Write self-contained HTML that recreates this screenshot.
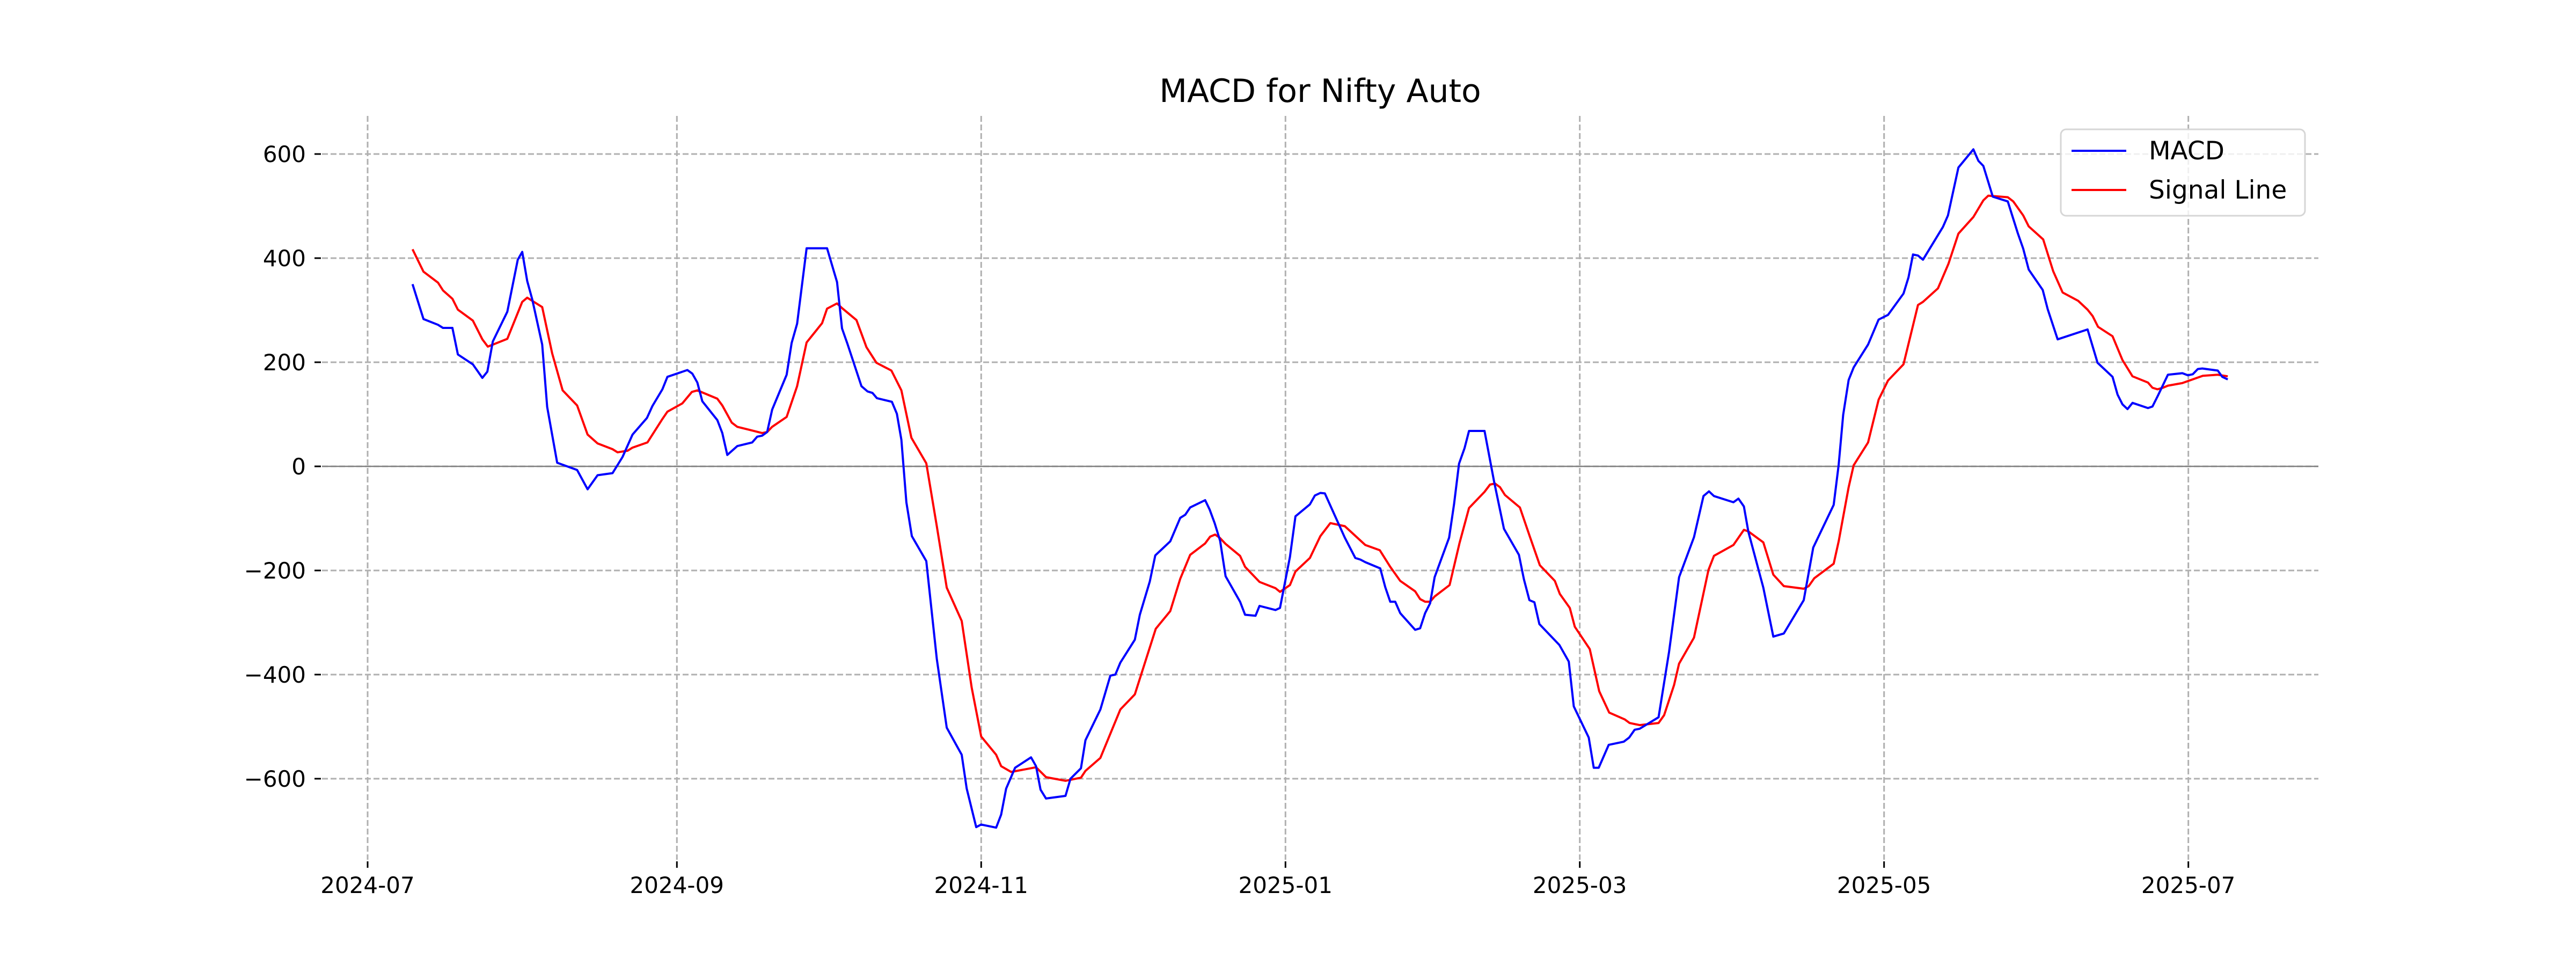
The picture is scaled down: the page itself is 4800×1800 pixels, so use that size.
<!DOCTYPE html>
<html><head><meta charset="utf-8"><style>
html,body{margin:0;padding:0;background:#fff;}
svg{display:block;font-family:"DejaVu Sans","Liberation Sans",sans-serif;}
</style></head><body>
<svg id="chart" width="4800" height="1800" viewBox="0 0 4800 1800" xmlns="http://www.w3.org/2000/svg">
<rect x="0" y="0" width="4800" height="1800" fill="#fff"/>
<text x="2460" y="190" text-anchor="middle" font-size="60" fill="#000">MACD for Nifty Auto</text>
<g id="grid"></g>
<g id="axes"></g>
<g id="series"></g>
<g>
<rect x="3840" y="241" width="455" height="161" rx="10" fill="#fff" fill-opacity="0.8" stroke="#d6d6d6" stroke-width="3"/>
<line x1="3860" y1="281" x2="3962" y2="281" stroke="#0000ff" stroke-width="4"/>
<text x="4004" y="297" font-size="47" fill="#000">MACD</text>
<line x1="3860" y1="354" x2="3962" y2="354" stroke="#ff0000" stroke-width="4"/>
<text x="4004" y="370" font-size="47" fill="#000">Signal Line</text>
</g>
</svg>
<script>
// days since 2024-07-01
const macdDays=[9,11.2,14.1,15.1,17,18.1,21.1,23,24,25.1,28,30.1,31,32,33,35,36,38,40,42,44.1,46.1,49.1,51.1,53.1,56,57.1,59.1,60.1,64.1,65.1,66.1,67.1,70.1,71.1,72.1,74.1,77.1,78.1,79.1,80.1,81.1,84,85,86.1,88,92.1,94.1,95.1,96.2,99,100.2,101.2,102.1,105.1,106.1,107,108,109.1,112,114.1,116.1,119.1,120.1,122,123,126,127,128,129.8,133,134,134.9,136,139.9,140.9,143,143.9,146.9,148.9,149.9,150.9,153.8,154.8,156.8,157.9,160.9,162.9,163.9,164.9,167.9,168.8,169.8,170.9,172,174.9,175.9,178,178.8,182,182.9,184.9,186,188.9,189.9,191,191.9,195.9,198,199,200,203,204,205,206,207,210,211,212,213,213.9,216.8,217.8,218.8,219.9,220.8,223.9,225.8,227.8,230.8,231.8,232.9,233.9,234.9,238.9,240.8,241.8,244.8,245.8,246.8,248.8,251.8,252.9,254,255,258.8,260.9,262.9,265.9,267.8,268.9,269.9,273.8,274.8,275.9,276.8,279.8,281.8,283.9,287.9,289.8,293.9,294.9,295.8,296.9,297.9,300.8,302.9,304.8,307.9,308.9,309.8,310.8,311.8,315.8,316.8,318.9,321.9,322.9,323.9,325.8,328.8,330.8,331.9,333,335.8,336.8,338.8,344.8,346.8,349.8,350.8,351.8,352.8,353.8,356.9,357.8,358.9,360.9,363.8,364.9,365.9,366.9,367.8,370.9,371.8,372.9];
const macdValues=[350,283,272,266,266,215,196,170,182,240,297,397,412,356,321,234,114,7,0,-7,-44,-17,-13,18,61,93,116,148,172,185,178,161,125,89,64,22,39,46,57,59,66,109,176,237,274,419,419,354,265,235,154,144,141,131,124,101,51,-69,-134,-182,-370,-502,-554,-619,-693,-688,-694,-669,-619,-579,-559,-576,-621,-638,-633,-600,-580,-526,-467,-402,-400,-377,-333,-285,-221,-171,-144,-99,-93,-79,-65,-83,-109,-143,-211,-260,-285,-287,-268,-276,-272,-174,-96,-73,-56,-51,-52,-137,-176,-179,-184,-196,-232,-260,-260,-282,-314,-311,-282,-263,-213,-137,-72,5,35,68,68,-28,-120,-170,-217,-257,-261,-303,-343,-375,-461,-521,-579,-579,-535,-529,-521,-506,-504,-482,-356,-213,-136,-57,-48,-57,-69,-62,-77,-126,-233,-327,-321,-257,-156,-74,3,99,166,190,234,282,291,332,363,407,405,397,460,482,574,609,587,577,518,509,448,418,378,339,302,244,263,199,172,138,119,110,122,112,115,136,176,179,175,177,187,188,184,172,167];
const signalDays=[9,11.2,14.1,15.1,17,18.1,21.1,23,24.1,28,31,32,35,37,39.1,42,44.1,46.1,49.1,50.1,52.1,53.1,56.1,59.1,60.1,63.1,65,66.1,70.1,71.1,73,74.1,79.1,80.1,81.1,84,86.1,88,91.1,92.1,94.1,95.1,98,100,102,105,107,109,112,114.1,116.1,119.1,121.1,123,126,127,129,134,136,139.9,143,143.9,146.9,150.9,153.8,158,160.9,162.9,164.9,167.9,168.9,169.9,170.8,172,174.9,175.9,178.8,182,182.9,184.9,186,188.9,191,193,195.9,200,202.9,205,207,210,211,212,213,213.9,216.9,218.9,220.8,223.9,225,226,227,228,231,233,235,238,239,241,242,245,246.9,248.9,252,253,255,258.8,259.9,261.9,262.9,265.9,268.8,269.9,273.8,275.9,276.8,279.8,281.8,283.9,287.9,288.9,290,293.9,294.9,296.9,297.9,300.8,302.9,304.8,307.9,310.8,311.8,314.8,316.9,318.9,321.9,323.9,324.9,328.8,329.9,331.9,333,335.9,337.9,339.8,342.9,344.8,345.8,346.9,349.8,351.8,353.8,356.9,357.8,358.8,359.9,360.9,363.8,367.9,370.9,372.9];
const signalValues=[417,374,353,338,322,301,280,244,230,245,316,324,306,217,146,117,61,44,33,27,30,36,46,91,105,121,143,146,130,117,84,76,64,66,76,95,154,238,275,303,313,304,281,229,199,184,146,55,6,-115,-233,-297,-425,-519,-554,-576,-587,-578,-597,-604,-598,-585,-560,-467,-438,-312,-278,-216,-170,-148,-135,-131,-137,-149,-172,-193,-222,-234,-241,-228,-202,-176,-134,-109,-115,-151,-161,-193,-220,-240,-255,-260,-260,-250,-228,-147,-80,-49,-35,-33,-40,-55,-79,-135,-190,-220,-245,-272,-308,-351,-432,-473,-486,-493,-497,-493,-478,-420,-379,-329,-199,-172,-151,-122,-125,-146,-208,-230,-235,-230,-215,-187,-144,-40,2,46,128,165,196,310,316,342,389,447,479,511,520,517,509,482,461,436,375,334,318,301,289,268,250,204,173,161,151,148,151,155,160,174,176,173];
const yTicks=[-600,-400,-200,0,200,400,600];
const xTickDays=[0,62,123,184,243,304,365];
const xTickLabels=["2024-07","2024-09","2024-11","2025-01","2025-03","2025-05","2025-07"];

const NS="http://www.w3.org/2000/svg";
const plotL=600,plotR=4320,plotT=216,plotB=1602;
function xScale(d){return 685+d*9.295;}
function yScale(v){return 869-v*0.97;}
function mk(tag,attrs,parent){const e=document.createElementNS(NS,tag);for(const k in attrs)e.setAttribute(k,attrs[k]);parent.appendChild(e);return e;}
const grid=document.getElementById('grid'),axes=document.getElementById('axes'),series=document.getElementById('series');

yTicks.forEach(function(v){
  const y=yScale(v);
  const g=mk('line',{x1:plotL,x2:plotR,y1:y,y2:y,stroke:'#b0b0b0','stroke-width':3,'stroke-dasharray':'11,5'},grid);
  
  
  const t=mk('line',{x1:586,x2:598,y1:y,y2:y,stroke:'#000','stroke-width':3},axes);
  
  
  const lab=mk('text',{x:570,y:y+15,'text-anchor':'end','font-size':42,fill:'#000'},axes);
  lab.textContent=(v<0?'\u2212'+Math.abs(v):String(v));
  
  
});
xTickDays.forEach(function(d,i){
  const x=xScale(d);
  const g=mk('line',{x1:x,x2:x,y1:plotT,y2:plotB,stroke:'#b0b0b0','stroke-width':3,'stroke-dasharray':'11,5'},grid);
  
  
  const t=mk('line',{x1:x,x2:x,y1:1605,y2:1617,stroke:'#000','stroke-width':3},axes);
  
  
  const lab=mk('text',{x:x,y:1664,'text-anchor':'middle','font-size':42,fill:'#000'},axes);
  lab.textContent=xTickLabels[i];
  
  
});
const zero=mk('line',{x1:plotL,x2:plotR,y1:yScale(0),y2:yScale(0),stroke:'#808080','stroke-width':2.5},grid);



function pathFor(days,vals){return days.map(function(d,i){return (i?'L':'M')+xScale(d).toFixed(1)+','+yScale(vals[i]).toFixed(1);}).join('');}
const sig=mk('path',{d:pathFor(signalDays,signalValues),fill:'none',stroke:'#ff0000','stroke-width':4,'stroke-linejoin':'round'},series);


const macd=mk('path',{d:pathFor(macdDays,macdValues),fill:'none',stroke:'#0000ff','stroke-width':4,'stroke-linejoin':'round'},series);


</script>
</body></html>
